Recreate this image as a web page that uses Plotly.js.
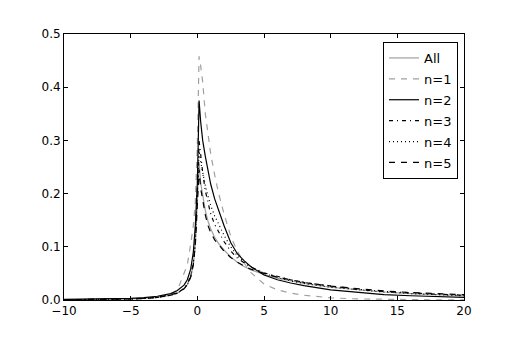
<!DOCTYPE html>
<html>
<head>
<meta charset="utf-8">
<script src="https://cdn.plot.ly/plotly-3.0.1.min.js"></script>
<style>html,body{margin:0;padding:0;background:#fff;}#chart{width:517px;height:345px;}</style>
</head>
<body>
<div id="chart"></div>
<script>
const xs = [-10,-8,-6,-5,-4,-3,-2,-1.5,-1,-0.75,-0.5,-0.3,-0.15,0,0.07,0.13,0.25,0.4,0.6,0.8,1,1.3,1.6,2,2.5,3,3.5,4,5,6,7,8,10,12,14,16,18,20];

const yAll = [0.0005,0.0008,0.0015,0.002,0.003,0.005,0.009,0.013,0.021,0.029,0.043,0.067,0.105,0.175,0.22,0.26,0.22,0.195,0.168,0.148,0.134,0.118,0.106,0.094,0.081,0.071,0.063,0.057,0.048,0.041,0.036,0.031,0.024,0.019,0.015,0.012,0.01,0.008];
const yN1 = [0.0003,0.0005,0.001,0.0015,0.002,0.004,0.009,0.018,0.048,0.066,0.105,0.14,0.185,0.29,0.38,0.458,0.44,0.41,0.35,0.31,0.275,0.235,0.2,0.162,0.12,0.092,0.07,0.052,0.03,0.019,0.013,0.009,0.004,0.002,0.001,0.0006,0.0003,0.0002];
const yN2 = [0.001,0.0015,0.0022,0.003,0.0045,0.007,0.012,0.018,0.028,0.038,0.058,0.09,0.14,0.22,0.3,0.375,0.335,0.3,0.27,0.243,0.218,0.19,0.168,0.14,0.108,0.087,0.074,0.063,0.047,0.038,0.032,0.027,0.019,0.014,0.01,0.008,0.006,0.005];
const yN3 = [0.0005,0.0008,0.0015,0.002,0.003,0.005,0.009,0.013,0.022,0.03,0.045,0.07,0.11,0.19,0.25,0.30,0.27,0.24,0.205,0.18,0.162,0.142,0.127,0.11,0.092,0.079,0.07,0.062,0.051,0.044,0.038,0.033,0.026,0.02,0.016,0.013,0.011,0.009];
const yN4 = [0.0005,0.0008,0.0015,0.002,0.003,0.005,0.009,0.013,0.021,0.029,0.044,0.068,0.108,0.185,0.235,0.28,0.26,0.24,0.215,0.195,0.178,0.158,0.142,0.122,0.1,0.083,0.072,0.063,0.05,0.042,0.036,0.031,0.024,0.019,0.015,0.012,0.01,0.008];
const yN5 = [0.0005,0.0008,0.0015,0.002,0.003,0.005,0.01,0.013,0.021,0.029,0.043,0.066,0.103,0.17,0.21,0.245,0.21,0.185,0.16,0.14,0.127,0.113,0.103,0.092,0.08,0.071,0.064,0.058,0.05,0.043,0.038,0.033,0.026,0.021,0.017,0.014,0.012,0.01];

const names = ['All','n=1','n=2','n=3','n=4','n=5'];
const series = [yAll,yN1,yN2,yN3,yN4,yN5];
const colors = ['#a0a0a0','#a0a0a0','#000000','#000000','#000000','#000000'];
const dashes = ['solid','6px,6px','solid','4px,4px,1px,4px','1px,3px','6px,6px'];

const traces = series.map((ys,i)=>({
  x: xs, y: ys, type:'scatter', mode:'lines', name: names[i],
  legendgroup: 'g'+i,
  line:{color:colors[i], width:1.2, dash:dashes[i]}
}));

const axisCommon = {
  showgrid:false, zeroline:false, showline:true, linecolor:'#000', linewidth:1,
  mirror:'allticks', ticks:'inside', ticklen:4, tickcolor:'#000', tickwidth:1,
  tickfont:{family:'DejaVu Sans', size:12, color:'#000'}
};

const layout = {
  width:517, height:345,
  margin:{l:64, r:53, t:34, b:45},
  paper_bgcolor:'#fff', plot_bgcolor:'#fff',
  showlegend:true,
  xaxis: Object.assign({}, axisCommon, {range:[-10,20], dtick:5, tick0:0}),
  yaxis: Object.assign({}, axisCommon, {range:[0,0.5], dtick:0.1, tick0:0, tickformat:'.1f'}),
  legend:{x:0.985, xanchor:'right', y:0.97, yanchor:'top', bordercolor:'#000', borderwidth:1,
    bgcolor:'#fff', font:{family:'DejaVu Sans', size:13, color:'#000'},
    traceorder:'grouped', tracegroupgap:1}
};

Plotly.newPlot('chart', traces, layout, {staticPlot:true, displayModeBar:false});
</script>
</body>
</html>
